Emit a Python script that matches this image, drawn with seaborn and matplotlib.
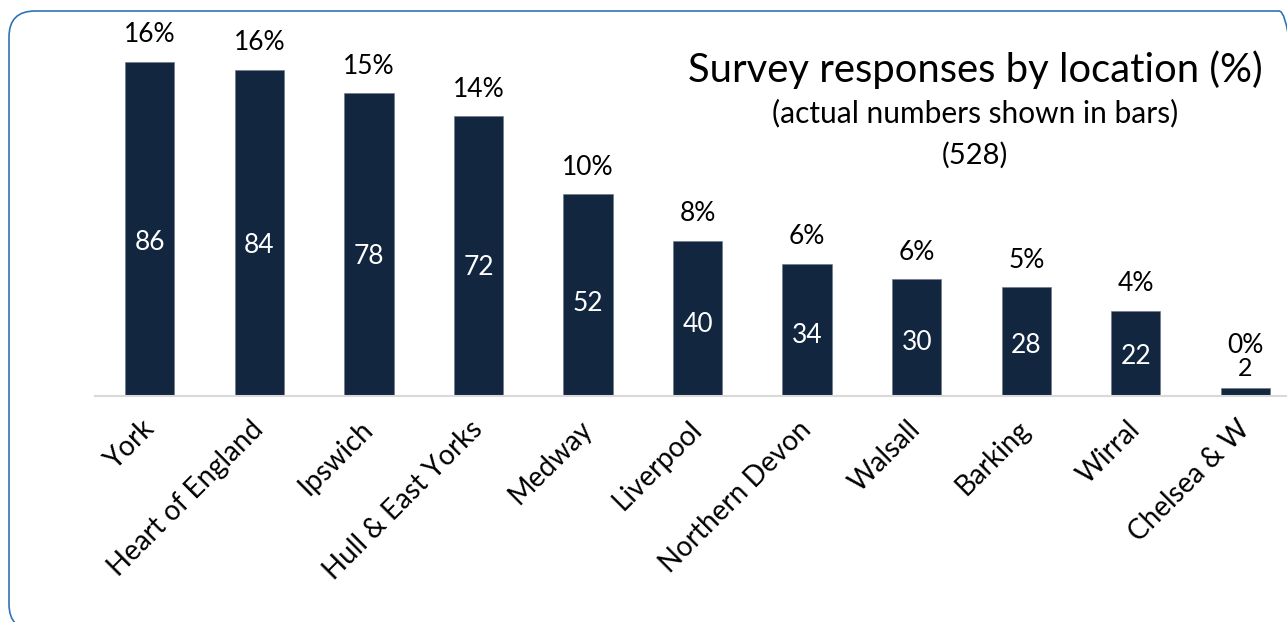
import matplotlib
matplotlib.use('Agg')
import matplotlib.pyplot as plt
import seaborn as sns
import pandas as pd
from matplotlib.patches import FancyBboxPatch
from matplotlib.transforms import IdentityTransform

locations = ["York", "Heart of England", "Ipswich", "Hull & East Yorks", "Medway",
             "Liverpool", "Northern Devon", "Walsall", "Barking", "Wirral", "Chelsea & W"]
counts = [86, 84, 78, 72, 52, 40, 34, 30, 28, 22, 2]
percents = [16, 16, 15, 14, 10, 8, 6, 6, 5, 4, 0]
title = "Survey responses by location (%)"
subtitle = "(actual numbers shown in bars)"
total_label = "(528)"

sns.set_theme(style='white')
plt.rcParams['font.family'] = ['Lato', 'DejaVu Sans']

W, H = 1287, 622
fig = plt.figure(figsize=(W / 100, H / 100), dpi=100)
fig.patch.set_facecolor('white')

# rounded frame
frame = FancyBboxPatch((9, -8), 1305 - 9, 611 + 8,
                       boxstyle="round,pad=0,rounding_size=26",
                       transform=IdentityTransform(), facecolor='none',
                       edgecolor='#2E75B6', linewidth=1.2)
fig.patches.append(frame)

ax = fig.add_axes([95 / W, (H - 396) / H, (W - 95) / W, (396 - 10) / H])
ax.set_facecolor('none')
df = pd.DataFrame({'loc': locations, 'n': counts})
sns.barplot(data=df, x='loc', y='n', color='#12263F', width=0.45, saturation=1,
            ax=ax, edgecolor='#6b7787', linewidth=0.4)
ax.set_xlim(-0.5, 10.38)
ax.set_ylim(0, 386 / 3.884)

for s in ['top', 'right', 'left']:
    ax.spines[s].set_visible(False)
ax.spines['bottom'].set_color('#D9D9D9')
ax.spines['bottom'].set_linewidth(1.5)
ax.set_yticks([])
ax.set_xlabel('')
ax.set_ylabel('')
ax.tick_params(axis='x', length=0, pad=21)
plt.setp(ax.get_xticklabels(), rotation=45, ha='right', rotation_mode='anchor',
         va='center', fontsize=20, color='black')

for i, (c, p) in enumerate(zip(counts, percents)):
    if c >= 10:
        ax.annotate(f"{p}%", xy=(i, c), xytext=(0, 27 * 0.72), textcoords='offset points',
                    ha='center', va='center', fontsize=19, color='black')
        ax.text(i, c * 0.46, str(c), ha='center', va='center', fontsize=19, color='white')
    else:
        ax.annotate(f"{p}%", xy=(i, c), xytext=(0, 43 * 0.72), textcoords='offset points',
                    ha='center', va='center', fontsize=19, color='black')
        ax.annotate(str(c), xy=(i, c), xytext=(0, 20 * 0.72), textcoords='offset points',
                    ha='center', va='center', fontsize=18, color='black')

fig.text(975 / W, 1 - 70 / H, title, ha='center', va='center', fontsize=28.8, color='black')
fig.text(975 / W, 1 - 113 / H, subtitle, ha='center', va='center', fontsize=21.5, color='black')
fig.text(975 / W, 1 - 155 / H, total_label, ha='center', va='center', fontsize=21, color='black')

fig.savefig('out.png', dpi=100)
